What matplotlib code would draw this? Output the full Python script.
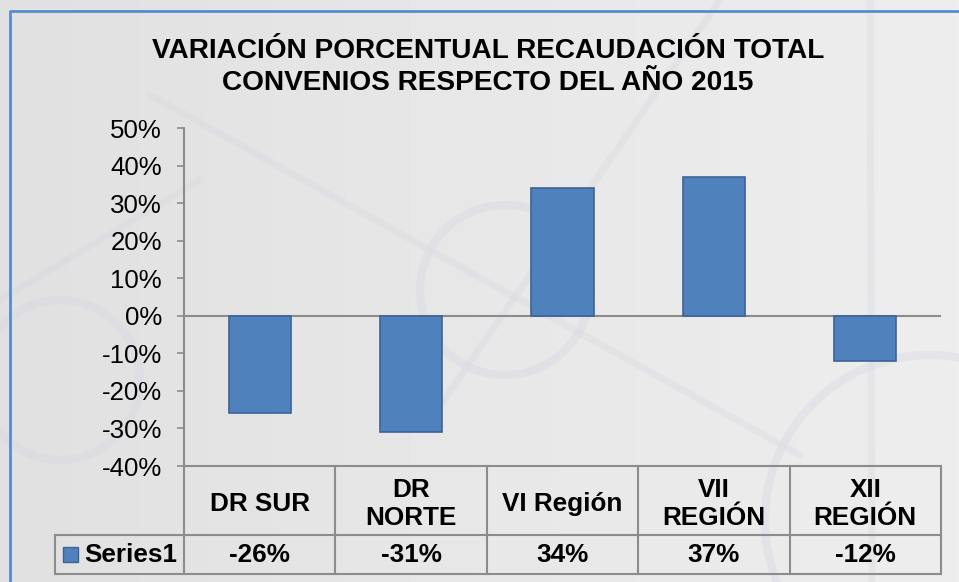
import numpy as np
import matplotlib.pyplot as plt
from matplotlib.patches import Circle, Rectangle
from matplotlib.colors import LinearSegmentedColormap
from matplotlib.transforms import blended_transform_factory

plt.rcParams['font.family'] = ['Liberation Sans', 'DejaVu Sans']

# data
categories = ["DR SUR", "DR\nNORTE", "VI Región", "VII\nREGIÓN", "XII\nREGIÓN"]
variation = [-0.26, -0.31, 0.34, 0.37, -0.12]
series_name = "Series1"
y_ticks = [-0.4, -0.3, -0.2, -0.1, 0.0, 0.1, 0.2, 0.3, 0.4, 0.5]
title = "VARIACIÓN PORCENTUAL RECAUDACIÓN TOTAL\nCONVENIOS RESPECTO DEL AÑO 2015"

W, H = 959, 582
bar_color = "#4f81bd"
bar_edge = "#3b6496"
grid_gray = "#8c8c8c"

fig = plt.figure(figsize=(W / 100, H / 100), dpi=100)

# slide background: soft gradient plus a faint network pattern
bg = fig.add_axes([0, 0, 1, 1], zorder=-10)
grad = np.linspace(0, 1, 256).reshape(1, -1)
bg_cmap = LinearSegmentedColormap.from_list("bg", ["#e1e1e1", "#e8e8e8", "#eeeeee"])
bg.imshow(grad, cmap=bg_cmap, extent=(0, W, H, 0), aspect="auto")
deco_color = "#d6d6e2"
deco = dict(color=deco_color, lw=5, alpha=0.3, solid_capstyle="round")
bg.plot([150, 800], [95, 455], **deco)
bg.plot([720, 430], [0, 420], **deco)
bg.plot([870, 872], [0, H], **deco)
bg.plot([0, 200], [300, 180], **deco)
for cx, cy, r in [(505, 290, 85), (930, 520, 165), (60, 380, 80)]:
    bg.add_patch(Circle((cx, cy), r, fill=False, ec=deco_color, lw=6, alpha=0.35))
bg.plot([10, 10, W], [H, 11, 11], color="#5a8ad0", lw=2)
bg.set_xlim(0, W)
bg.set_ylim(H, 0)
bg.axis("off")

fig.text(488 / W, 1 - 67 / H, title, ha="center", va="center",
         fontsize=20.2, fontweight="bold", linespacing=1.25)

# plot area
ax = fig.add_axes([184 / W, 1 - 466 / H, (941 - 184) / W, (466 - 128) / H])
ax.patch.set_alpha(0)
x = np.arange(len(categories))
ax.bar(x, variation, width=0.41, color=bar_color, edgecolor=bar_edge,
       linewidth=1.2, zorder=3)
ax.axhline(0, color=grid_gray, lw=1.5, zorder=2)
ax.set_xlim(-0.5, len(categories) - 0.5)
ax.set_ylim(min(y_ticks), max(y_ticks))
ax.set_yticks(y_ticks)
ax.set_yticklabels([f"{v:.0%}" for v in y_ticks])
ax.set_xticks([])
ax.tick_params(axis="y", direction="out", length=5, width=1.2,
               color=grid_gray, labelsize=18.6, pad=11)
for side in ["top", "right"]:
    ax.spines[side].set_visible(False)
for side in ["left", "bottom"]:
    ax.spines[side].set_color(grid_gray)
    ax.spines[side].set_linewidth(1.5)

# data table under the axis
trans = blended_transform_factory(ax.transData, ax.transAxes)
row1 = -(535 - 466) / 338
row2 = -(574 - 466) / 338
legend_left = -(184 - 55) / 757
line_kw = dict(color=grid_gray, lw=1.5, clip_on=False)
edges = np.arange(len(categories) + 1) - 0.5
for e in edges:
    ax.plot([e, e], [0, row2], transform=trans, **line_kw)
for yy in [row1, row2]:
    ax.plot([legend_left, 1], [yy, yy], transform=ax.transAxes, **line_kw)
ax.plot([legend_left, legend_left], [row1, row2], transform=ax.transAxes, **line_kw)

for xi, cat, val in zip(x, categories, variation):
    ax.text(xi, row1 / 2 - 0.01, cat, transform=trans, ha="center", va="center",
            fontsize=18.8, fontweight="bold", linespacing=1.2, clip_on=False)
    ax.text(xi, (row1 + row2) / 2, f"{val:.0%}", transform=trans,
            ha="center", va="center", fontsize=18.8, fontweight="bold", clip_on=False)

ax.add_patch(Rectangle((-(184 - 63) / 757, -(562 - 466) / 338), 15 / 757, 15 / 338,
                       transform=ax.transAxes, facecolor=bar_color,
                       edgecolor=bar_edge, lw=1, clip_on=False))
ax.text(-(184 - 84) / 757, (row1 + row2) / 2, series_name, transform=ax.transAxes,
        ha="left", va="center", fontsize=18.8, fontweight="bold", clip_on=False)

fig.savefig("out.png", dpi=100)
